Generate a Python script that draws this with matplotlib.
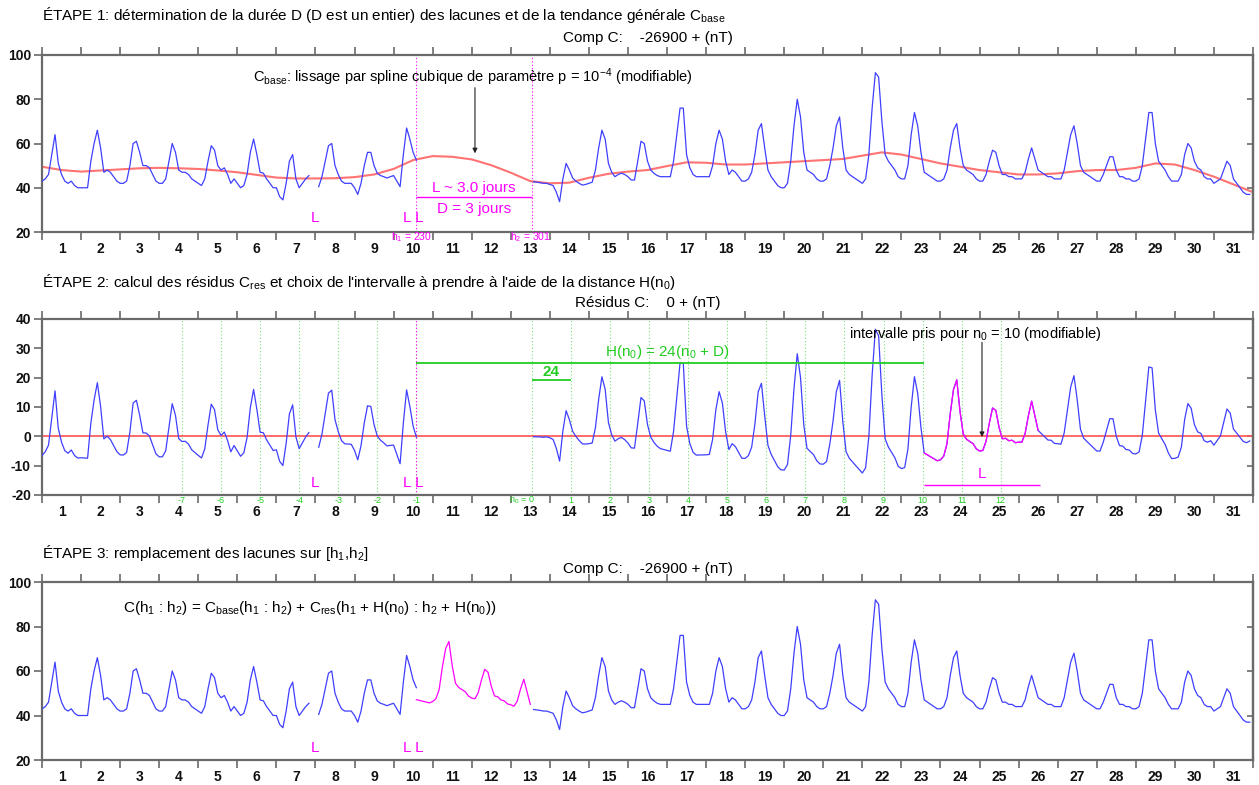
import numpy as np
import matplotlib
matplotlib.use('Agg')
import matplotlib.pyplot as plt
from matplotlib.transforms import blended_transform_factory

plt.rcParams['font.family'] = ['Liberation Sans Narrow', 'Liberation Sans', 'DejaVu Sans']
plt.rcParams['mathtext.default'] = 'regular'

nan = np.nan
STEP_H = 2  # hours between samples
# Component C (minus 26900 nT), one row per day, samples every 2 h
comp_c = [
    43, 44, 46, 55, 64, 51, 46, 43, 42, 43, 41, 40,
    40, 40, 40, 52, 60, 66, 58, 47, 48, 47, 45, 43,
    42, 42, 43, 50, 60, 61, 56, 50, 50, 49, 46, 43,
    42, 42, 44, 52, 60, 56, 48, 47, 47, 46, 44, 43,
    42, 41, 44, 52, 59, 57, 50, 48, 49, 46, 42, 44,
    42, 40, 41, 46, 56, 62, 55, 47, 46.6, 44, 42, 40,
    40, 36, 34.5, 42, 52, 55, 44, 40, 42, 44, 45.5, nan,
    nan, 40.5, 45, 52, 59, 60, 50, 46, 43, 42, 42, 42,
    40, 37, 42, 50, 56, 56, 50, 46.5, 45.5, 45, 44.4, 45,
    45.5, 43, 40.5, 55, 67, 62, 56, 52.5, nan, nan, nan, nan,
    nan, nan, nan, nan, nan, nan, nan, nan, nan, nan, nan, nan,
    nan, nan, nan, nan, nan, nan, nan, nan, nan, nan, nan, nan,
    nan, nan, nan, nan, nan, nan, nan, 42.7, 42.5, 42.3, 42, 42,
    41.5, 41, 38, 33.7, 44, 51, 48, 44.4, 43, 42, 41.2, 41.5,
    42, 42.5, 48, 58, 66, 62, 51, 47, 45, 46, 46.6, 46,
    45, 43.5, 43.5, 52, 61, 60, 52, 48, 46.5, 45.5, 45, 45,
    45, 45, 52, 64, 76, 76, 55, 49, 46, 45, 45, 45,
    45, 45, 50, 60, 66, 62, 52, 46, 48, 47, 45, 43,
    43, 44, 47, 55, 66, 69, 58, 48, 45, 43, 41, 40,
    40, 42, 52, 68, 80, 72, 56, 48, 47, 46, 44, 43,
    43, 44, 50, 58, 68, 72, 58, 48, 46, 45, 44, 43,
    42, 44, 55, 76, 92, 90, 70, 55, 52, 50, 48, 45,
    44, 44, 50, 64, 74, 68, 56, 47, 46, 45, 44, 43,
    43, 44, 48, 58, 66, 69, 58, 50, 48, 47, 46, 44,
    43, 43, 46, 52, 57, 56, 50, 46, 46, 45, 45, 44,
    44, 44, 47, 53, 58, 53, 48, 47, 46, 45, 45, 44,
    44, 44, 48, 56, 64, 68, 60, 50, 47, 46, 45, 44,
    43, 43, 46, 50, 54, 54, 48, 45, 45, 44, 44, 43,
    43, 44, 50, 62, 74, 74, 60, 52, 50, 48, 45, 43,
    43, 43, 46, 55, 60, 58, 52, 49, 48, 45, 44, 44,
    42, 43, 44, 48, 52, 50, 44, 42, 40, 38, 37, 37,
]

# Smoothing spline C_base, every 12 h
BASE_STEP_H = 12
c_base = [
    49.5, 48, 47.3, 47.8, 48.3, 48.8, 49, 48.8, 48.5, 47.8,
    47, 45.8, 44.6, 44.2, 44.2, 44.3, 44.8, 46, 48.5, 52.5,
    54.3, 54, 52.8, 50.2, 46.8, 43, 42, 42.3, 44.5, 46.3,
    47.3, 48, 49.8, 51.5, 51.3, 50.5, 50.5, 51, 51.5, 52,
    52.5, 53, 54.5, 56, 55, 53, 51, 49.5, 48, 47,
    46, 46, 46.5, 47.5, 48, 48, 49, 51, 50.5, 48,
    45, 41.5, 38,
]

day_labels = [str(d) for d in range(1, 32)]
h1, h2 = 230, 301
D = 3
n0 = 10
H = 24 * (n0 + D)

comp_c = np.array(comp_c, dtype=float)
hours = np.arange(len(comp_c)) * STEP_H
c_base = np.array(c_base, dtype=float)
base_hours = np.arange(len(c_base)) * BASE_STEP_H
c_res = comp_c - np.interp(hours, base_hours, c_base)

# gap reconstruction
gap_mask = (hours >= h1) & (hours <= h2)
gap_hours = hours[gap_mask]
src_idx = np.searchsorted(hours, gap_hours + H)
filled = np.interp(gap_hours, base_hours, c_base) + c_res[src_idx]
res_mask = (hours >= h1 + H) & (hours <= h2 + H)

BLUE = '#3f3fff'
RED = '#ff5a5a'
MAG = '#ff00ff'
GREEN = '#22cc22'
LGREEN = '#77e077'
SPINE = '#6a6a6a'

fig = plt.figure(figsize=(12.59, 7.85), dpi=100)
L, W = 42 / 1259, (1253 - 42) / 1259


def make_ax(top_px, bot_px, ylim, yticks):
    ax = fig.add_axes([L, 1 - bot_px / 785, W, (bot_px - top_px) / 785])
    ax.set_xlim(0, 744)
    ax.set_ylim(*ylim)
    ax.set_xticks(np.arange(0, 745, 24))
    ax.set_xticklabels([])
    ax.set_xticks(np.arange(12, 744, 24), minor=True)
    ax.set_xticklabels(day_labels, minor=True, fontsize=10, fontweight='bold',
                       family=['Liberation Sans', 'DejaVu Sans'])
    ax.set_yticks(yticks)
    ax.set_yticklabels([str(v) for v in yticks], fontsize=10, fontweight='bold',
                       family=['Liberation Sans', 'DejaVu Sans'])
    ax.tick_params(axis='x', which='major', direction='out', length=6, width=1.2,
                   top=True, bottom=True, color=SPINE)
    ax.tick_params(axis='x', which='minor', length=0, pad=7, colors='#111111')
    ax.tick_params(axis='y', which='major', direction='out', length=6, width=1.2,
                   color=SPINE, pad=2, labelcolor='#111111')
    for s in ax.spines.values():
        s.set_color(SPINE)
        s.set_linewidth(1.6)
    # inward ticks on the right spine
    axr = ax.secondary_yaxis('right')
    axr.set_yticks(yticks)
    axr.set_yticklabels([])
    axr.tick_params(direction='in', length=4, width=1.2, color=SPINE)
    axr.spines['right'].set_color(SPINE)
    axr.spines['right'].set_linewidth(1.6)
    return ax


# ---------- Panel 1 ----------
ax1 = make_ax(55, 232, (20, 100), [20, 40, 60, 80, 100])
ax1.plot(base_hours, c_base, color=RED, lw=1.5, alpha=0.85, zorder=2)
ax1.plot(hours, comp_c, color=BLUE, lw=0.9, zorder=3)
for h in (h1, h2):
    ax1.axvline(h, color=MAG, ls=(0, (1, 2)), lw=0.8, zorder=1)
ax1.text(129.6, 90, r'C$_{base}$: lissage par spline cubique de paramètre p = 10$^{-4}$ (modifiable)',
         fontsize=10.5, va='center', ha='left')
ax1.annotate('', xy=(266, 54.3), xytext=(266, 86.5),
             arrowprops=dict(arrowstyle='-|>', color='#222222', lw=0.8, mutation_scale=7))
ax1.text((h1 + h2) / 2, 40, 'L ~ 3.0 jours', color=MAG, fontsize=11, ha='center', va='center')
ax1.hlines(35.8, h1, h2, color=MAG, lw=1.0)
ax1.text((h1 + h2) / 2, 30.5, 'D = 3 jours', color=MAG, fontsize=11, ha='center', va='center')
ax1.text(168, 26.3, 'L', color=MAG, fontsize=11, ha='center', va='center')
ax1.text(228, 26.3, 'L L', color=MAG, fontsize=11, ha='center', va='center')
tr1 = blended_transform_factory(ax1.transData, ax1.transAxes)
ax1.text(227, -0.03, r'h$_1$ = 230', color=MAG, fontsize=7.5, ha='center', va='center', transform=tr1)
ax1.text(300, -0.03, r'h$_2$ = 301', color=MAG, fontsize=7.5, ha='center', va='center', transform=tr1)

# ---------- Panel 2 ----------
ax2 = make_ax(319, 495, (-20, 40), [-20, -10, 0, 10, 20, 30, 40])
tr2 = blended_transform_factory(ax2.transData, ax2.transAxes)
neg_lines = [h1 - 24 * (k - 1) for k in range(1, 8)]
pos_lines = [h2 + 24 * n for n in range(0, 13)]
for k, h in enumerate(neg_lines, start=1):
    ax2.axvline(h, color=LGREEN, ls=(0, (1, 2)), lw=0.8, zorder=1)
    ax2.text(h, -0.03, f'-{k}', color=GREEN, fontsize=6.5, ha='center', va='center', transform=tr2)
for n, h in enumerate(pos_lines):
    ax2.axvline(h, color=LGREEN, ls=(0, (1, 2)), lw=0.8, zorder=1)
    lab = r'n$_0$ = 0' if n == 0 else str(n)
    ax2.text(h + (2 if n == 0 else 0), -0.03, lab, color=GREEN, fontsize=6.5,
             ha='right' if n == 0 else 'center', va='center', transform=tr2)
ax2.axvline(h1, color=MAG, ls=(0, (1, 2)), lw=0.8, zorder=1)
ax2.axhline(0, color=RED, lw=1.4, alpha=0.9, zorder=2)
ax2.plot(hours, c_res, color=BLUE, lw=0.9, zorder=3)
res_part = np.where(res_mask, c_res, nan)
ax2.plot(hours, res_part, color=MAG, lw=0.9, zorder=4)
ax2.hlines(25, h1, h1 + H, color=GREEN, lw=1.3, zorder=4)
ax2.text(384.5, 28.8, r'H(n$_0$) = 24(n$_0$ + D)', color=GREEN, fontsize=11, ha='center', va='center')
ax2.hlines(19.2, h2, h2 + 24, color=GREEN, lw=1.3, zorder=4)
ax2.text(h2 + 12, 21.8, '24', color=GREEN, fontsize=11, ha='center', va='center', fontweight='bold')
ax2.hlines(-16.6, h1 + H, h2 + H, color=MAG, lw=1.0, zorder=4)
ax2.text((h1 + h2) / 2 + H, -12.8, 'L', color=MAG, fontsize=11, ha='center', va='center')
ax2.text(168, -16, 'L', color=MAG, fontsize=11, ha='center', va='center')
ax2.text(228, -16, 'L L', color=MAG, fontsize=11, ha='center', va='center')
ax2.text(496, 35, r'intervalle pris pour n$_0$ = 10 (modifiable)', fontsize=10.5,
         ha='left', va='center')
ax2.annotate('', xy=((h1 + h2) / 2 + H, -1.2), xytext=((h1 + h2) / 2 + H, 33),
             arrowprops=dict(arrowstyle='-|>', color='#222222', lw=0.8, mutation_scale=7))

# ---------- Panel 3 ----------
ax3 = make_ax(582, 760, (20, 100), [20, 40, 60, 80, 100])
ax3.plot(hours, comp_c, color=BLUE, lw=0.9, zorder=3)
ax3.plot(gap_hours, filled, color=MAG, lw=0.9, zorder=3)
ax3.text(49.8, 88.3,
         r'C(h$_1$ : h$_2$) = C$_{base}$(h$_1$ : h$_2$) + C$_{res}$(h$_1$ + H(n$_0$) : h$_2$ + H(n$_0$))',
         fontsize=11, ha='left', va='center')
ax3.text(168, 25.4, 'L', color=MAG, fontsize=11, ha='center', va='center')
ax3.text(228, 25.4, 'L L', color=MAG, fontsize=11, ha='center', va='center')

# ---------- Titles ----------
xc = L + W / 2
fig.text(L, 1 - 15 / 785,
         r'ÉTAPE 1: détermination de la durée D (D est un entier) des lacunes et de la tendance générale C$_{base}$',
         fontsize=11, va='center', ha='left')
fig.text(xc, 1 - 38 / 785, 'Comp C:    -26900 + (nT)', fontsize=11, va='center', ha='center')
fig.text(L, 1 - 282 / 785,
         r"ÉTAPE 2: calcul des résidus C$_{res}$ et choix de l'intervalle à prendre à l'aide de la distance H(n$_0$)",
         fontsize=11, va='center', ha='left')
fig.text(xc, 1 - 303 / 785, 'Résidus C:    0 + (nT)', fontsize=11, va='center', ha='center')
fig.text(L, 1 - 553 / 785, r'ÉTAPE 3: remplacement des lacunes sur [h$_1$,h$_2$]',
         fontsize=11, va='center', ha='left')
fig.text(xc, 1 - 569 / 785, 'Comp C:    -26900 + (nT)', fontsize=11, va='center', ha='center')

fig.savefig('out.png', dpi=100)
